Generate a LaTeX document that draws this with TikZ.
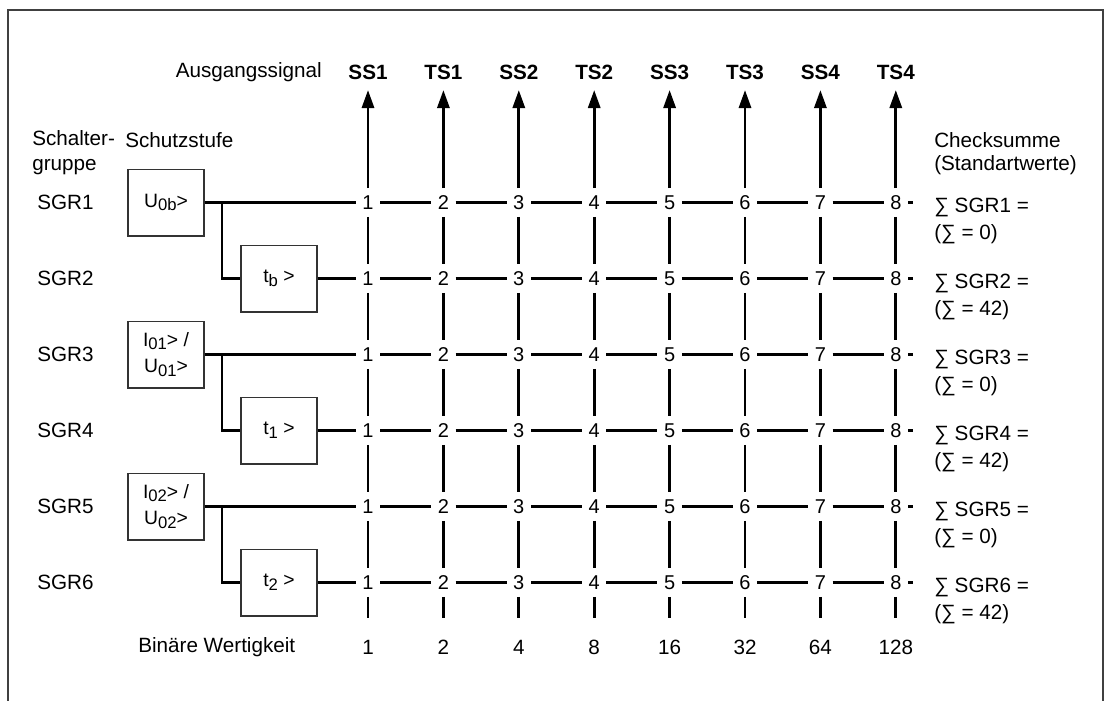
\documentclass[tikz,border=0pt]{standalone}
\usepackage{fontspec}
\setmainfont{Liberation Sans}
\usetikzlibrary{arrows.meta}

\newcommand{\lowsub}[1]{\raisebox{-0.35ex}{\fontsize{12.5}{12.5}\selectfont #1}}

\tikzset{
  wire/.style={line width=2.2pt},
  stagebox/.style={draw=black!80, line width=1pt, minimum width=57pt, minimum height=50pt, inner sep=0pt, align=center, font=\fontsize{14.5}{20}\selectfont},
  bitnode/.style={inner sep=0pt, minimum width=18pt, minimum height=21pt, font=\fontsize{15}{18}\selectfont},
  lbl/.style={inner sep=0pt, font=\fontsize{15.5}{19}\selectfont},
}

\begin{document}
\begin{tikzpicture}[x=0.75pt, y=-0.75pt]
  \useasboundingbox (0,0) rectangle (1105,700);
  \draw[black!75, line width=1pt] (8,10) rectangle (1103,720);

  % Kopfzeile
  \node[lbl, anchor=east] (head) at (322,72) {Ausgangssignal};
  \foreach \s [count=\c] in {SS1,TS1,SS2,TS2,SS3,TS3,SS4,TS4}{
    \node[lbl, font=\fontsize{15.5}{19}\selectfont\bfseries] (out-\c) at ({368+75.4*(\c-1)},72) {\s};
    \coordinate (tip-\c) at ({368+75.4*(\c-1)},90);
    \coordinate (foot-\c) at ({368+75.4*(\c-1)},618);
  }
  \node[lbl, anchor=west, align=left, font=\fontsize{15.5}{19}\selectfont] (grp) at (32,152.5) {Schalter-\\gruppe};
  \node[lbl, anchor=west] (stufe) at (125,140) {Schutzstufe};
  \node[lbl, anchor=west, align=left, font=\fontsize{15.5}{17}\selectfont] (check) at (934,153.5) {Checksumme\\(Standartwerte)};

  % Matrix
  \foreach \r in {1,...,6}{
    \node[lbl, anchor=west] (sgr-\r) at (37,{202.5+76*(\r-1)}) {SGR\r};
    \foreach \c in {1,...,8}
      \node[bitnode] (n-\r-\c) at ({368+75.4*(\c-1)},{202.5+76*(\r-1)}) {\c};
    \coordinate (end-\r) at (913,{202.5+76*(\r-1)});
  }
  \foreach \r/\v in {1/0,2/42,3/0,4/42,5/0,6/42}
    \node[lbl, anchor=west, align=left, font=\fontsize{15.5}{20}\selectfont] (sum-\r) at (934,{221+76*(\r-1)}) {∑ SGR\r{} =\\(∑ = \v)};

  % Schutzstufen
  \node[stagebox] (s-1) at (166,202.5) {U\lowsub{0b}>};
  \node[stagebox] (t-1) at (279,278.5) {t\lowsub{b} >};
  \node[stagebox] (s-2) at (166,354.5) {I\lowsub{01}> /\\U\lowsub{01}>};
  \node[stagebox] (t-2) at (279,430.5) {t\lowsub{1} >};
  \node[stagebox] (s-3) at (166,506.5) {I\lowsub{02}> /\\U\lowsub{02}>};
  \node[stagebox] (t-3) at (279,582.5) {t\lowsub{2} >};
  \coordinate (br-1) at (222,202.5);
  \coordinate (br-2) at (222,354.5);
  \coordinate (br-3) at (222,506.5);

  \foreach \k/\a/\b in {1/1/2,2/3/4,3/5/6}{
    \draw[wire] (s-\k) -- (n-\a-1);
    \draw[wire] (br-\k) |- (t-\k);
    \draw[wire] (t-\k) -- (n-\b-1);
  }

  % Leitungen
  \foreach \r in {1,...,6}{
    \foreach \c [count=\d from 2] in {1,...,7}
      \draw[wire] (n-\r-\c) -- (n-\r-\d);
    \draw[wire] (n-\r-8) -- (end-\r);
  }
  \foreach \c in {1,...,8}{
    \draw[wire, -{Triangle[length=13.5pt, width=9pt]}] (n-1-\c) -- (tip-\c);
    \foreach \r [count=\d from 2] in {1,...,5}
      \draw[wire] (n-\r-\c) -- (n-\d-\c);
    \draw[wire] (n-6-\c) -- (foot-\c);
  }

  % Wertigkeit
  \node[lbl, anchor=west] (bin) at (138,647) {Binäre Wertigkeit};
  \foreach \w [count=\c] in {1,2,4,8,16,32,64,128}
    \node[lbl] (w-\c) at ({368+75.4*(\c-1)},647) {\w};
\end{tikzpicture}
\end{document}
